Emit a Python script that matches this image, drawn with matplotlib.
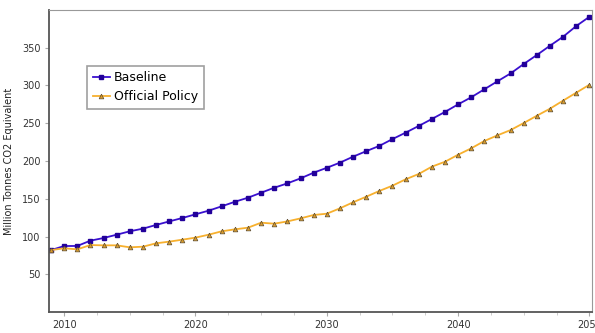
import numpy as np
import matplotlib.pyplot as plt
from matplotlib.ticker import MultipleLocator

# Emissoes anuais (Mt CO2e) por cenario
years = np.arange(2009, 2051)
baseline = [82, 87.4, 87.5, 94.5, 98, 102.4, 106.9, 110.4, 115.3, 120,
            124.5, 129.4, 134.2, 140, 146, 151.4, 158, 164.6, 170.4, 177,
            184.5, 191, 197.8, 205.7, 213, 220, 229, 237.5, 246.4, 255.6,
            265, 275, 284.4, 295, 305.6, 316, 328.5, 340.4, 352.7, 364.6,
            378.8, 391]
policy = [82, 84.4, 83, 88.7, 88.3, 88.3, 85.7, 86.5, 91, 93.2,
          95.8, 98.5, 102.4, 106.9, 109.5, 111.7, 118.3, 117, 120, 124,
          128.5, 130.2, 137.3, 145.3, 152.7, 160.3, 167.3, 175.7, 182.8, 192.5,
          199, 208.3, 216.8, 226.5, 234, 241, 250.3, 260, 269.3, 280,
          290.5, 301]

fig = plt.figure(figsize=(5.95, 3.33), dpi=100)
ax = fig.add_axes([0.0824, 0.063, 0.9126, 0.907])

ax.plot(years, baseline, color='#3a10d0', linewidth=1.3, marker='s', markersize=3.3,
        markerfacecolor='#22009a', markeredgecolor='#22009a', label='Baseline')
ax.plot(years, policy, color='#f7b02e', linewidth=1.3, marker='^', markersize=3.4,
        markerfacecolor='#d89a2a', markeredgecolor='#5a4a30', markeredgewidth=0.5,
        label='Official Policy')

ax.set_xlim(2008.85, 2050.2)
ax.set_ylim(0, 400)
ax.xaxis.set_major_locator(MultipleLocator(10))
ax.xaxis.set_minor_locator(MultipleLocator(2.5))
ax.set_yticks([50, 100, 150, 200, 250, 300, 350])
ax.tick_params(axis='both', which='major', labelsize=7, colors='#aaaaaa',
               labelcolor='#333333', length=3, width=0.8, pad=3)
ax.tick_params(axis='x', which='minor', colors='#cccccc', length=2.5, width=0.7)

ax.spines['left'].set_color('#555555')
ax.spines['bottom'].set_color('#555555')
ax.spines['left'].set_linewidth(1.3)
ax.spines['bottom'].set_linewidth(1.3)
ax.spines['top'].set_color('#999999')
ax.spines['right'].set_color('#999999')

ax.set_ylabel('Million Tonnes CO2 Equivalent', fontsize=7, color='#222222', labelpad=6)

leg = ax.legend(loc='upper left', bbox_to_anchor=(0.07, 0.815), fontsize=9,
                frameon=True, fancybox=False, handlelength=1.4, handletextpad=0.3,
                borderpad=0.45, labelspacing=0.45, borderaxespad=0)
leg.get_frame().set_edgecolor('#888888')
leg.get_frame().set_linewidth(1.2)

fig.savefig('out.png', dpi=100)
